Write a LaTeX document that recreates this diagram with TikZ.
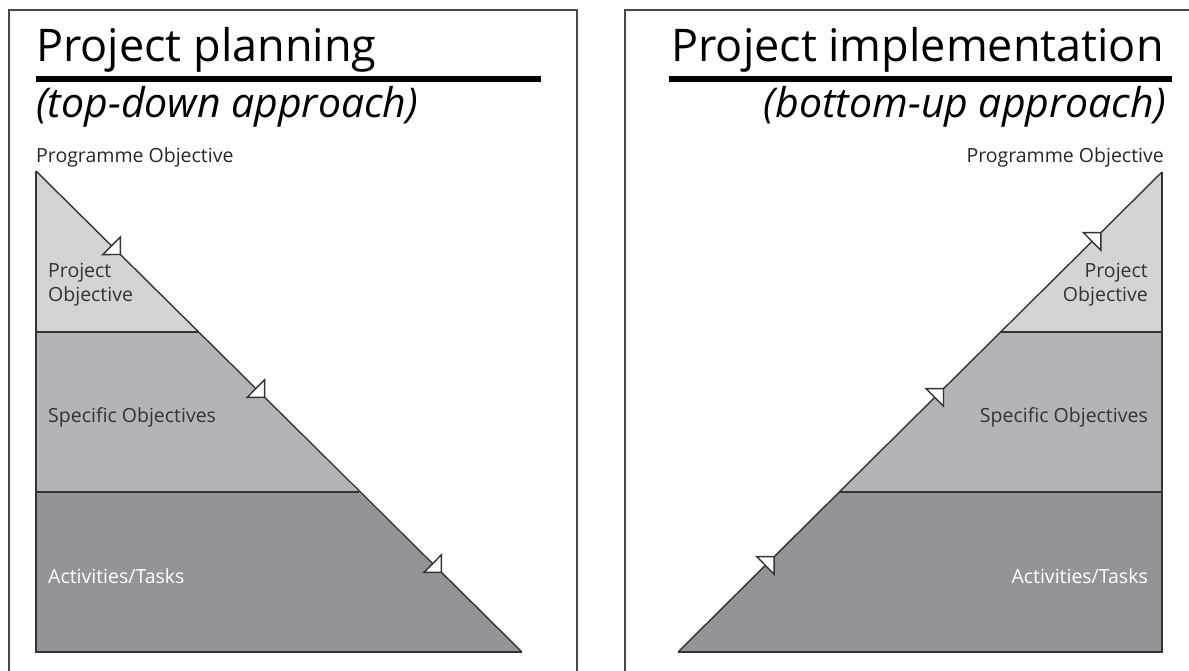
\documentclass[tikz,border=0pt]{standalone}
\usepackage{xcolor}
\usepackage{fontspec}
\setmainfont{Open Sans}
\usepackage{tikz}
\usetikzlibrary{arrows.meta,decorations.markings}

\definecolor{lvlone}{HTML}{D3D4D6}
\definecolor{lvltwo}{HTML}{B3B4B7}
\definecolor{lvlthree}{HTML}{939497}
\definecolor{inkgray}{HTML}{333333}
\definecolor{framegray}{HTML}{4A4A4A}

\tikzset{
  frame/.style={draw=framegray, line width=1.4pt},
  band/.style={draw=inkgray, line width=1.2pt},
  titlerule/.style={draw=black, line width=6.5pt},
  ttl/.style={inner sep=0pt, font=\fontsize{45}{50}\selectfont},
  subttl/.style={inner sep=0pt, font=\fontsize{41}{46}\selectfont\itshape},
  lbl/.style={inner sep=0pt, text=inkgray, font=\fontsize{19.5}{24}\selectfont},
  flowtip/.tip={Triangle[length=14pt,width=28pt,fill=white]},
}

\begin{document}
\begin{tikzpicture}[x=1pt, y=-1pt]
    \useasboundingbox (0,0) rectangle (1189,671);

    % Frames
    \draw[frame] (9,671) -- (9,10) -- (577,10) -- (577,671);
    \draw[frame] (625,671) -- (625,10) -- (1189,10);

    % Project planning
    \node[ttl, anchor=base west] (ttlPlan) at (36,62) {Project planning};
    \draw[titlerule] (36,79) -- (541,79);
    \node[subttl, anchor=base west] (subPlan) at (36,118) {(top-down approach)};
    \node[lbl, text=black!85, anchor=base west] (progPlan) at (36,163) {Programme Objective};

    \fill[lvlone] (36,171) -- (198,332) -- (36,332) -- cycle;
    \fill[lvltwo] (36,332) -- (198,332) -- (359,492) -- (36,492) -- cycle;
    \fill[lvlthree] (36,492) -- (359,492) -- (522,652) -- (36,652) -- cycle;
    \draw[band] (36,332) -- (198,332);
    \draw[band] (36,492) -- (359,492);
    \draw[band, line width=1.8pt] (36,171) -- (36,652) -- (522,652);
    \draw[band, line width=1.4pt, postaction={decorate, decoration={markings,
        mark=at position 0.175 with {\arrow{flowtip}},
        mark=at position 0.472 with {\arrow{flowtip}},
        mark=at position 0.836 with {\arrow{flowtip}}}}]
        (36,171) -- (522,652);

    \node[lbl, anchor=base west, align=left] (projPlan) at (48,301) {Project\\Objective};
    \node[lbl, anchor=base west] (specPlan) at (48,422) {Specific Objectives};
    \node[lbl, text=white, anchor=base west] (actPlan) at (48,583) {Activities/Tasks};

    % Project implementation
    \node[ttl, anchor=base east] (ttlImpl) at (1164,62) {Project implementation};
    \draw[titlerule] (669,79) -- (1172,79);
    \node[subttl, anchor=base east] (subImpl) at (1166,118) {(bottom-up approach)};
    \node[lbl, text=black!85, anchor=base east] (progImpl) at (1164,163) {Programme Objective};

    \fill[lvlone] (1162,172) -- (1001,332) -- (1162,332) -- cycle;
    \fill[lvltwo] (1001,332) -- (1162,332) -- (1162,492) -- (839,492) -- cycle;
    \fill[lvlthree] (839,492) -- (1162,492) -- (1162,652) -- (678,652) -- cycle;
    \draw[band] (1001,332) -- (1162,332);
    \draw[band] (839,492) -- (1162,492);
    \draw[band, line width=1.8pt] (678,652) -- (1162,652) -- (1162,172);
    \draw[band, line width=1.4pt, postaction={decorate, decoration={markings,
        mark=at position 0.2 with {\arrow{flowtip}},
        mark=at position 0.55 with {\arrow{flowtip}},
        mark=at position 0.875 with {\arrow{flowtip}}}}]
        (678,652) -- (1162,172);

    \node[lbl, anchor=base east, align=right] (projImpl) at (1148,301) {Project\\Objective};
    \node[lbl, anchor=base east] (specImpl) at (1148,422) {Specific Objectives};
    \node[lbl, text=white, anchor=base east] (actImpl) at (1148,583) {Activities/Tasks};
\end{tikzpicture}
\end{document}
